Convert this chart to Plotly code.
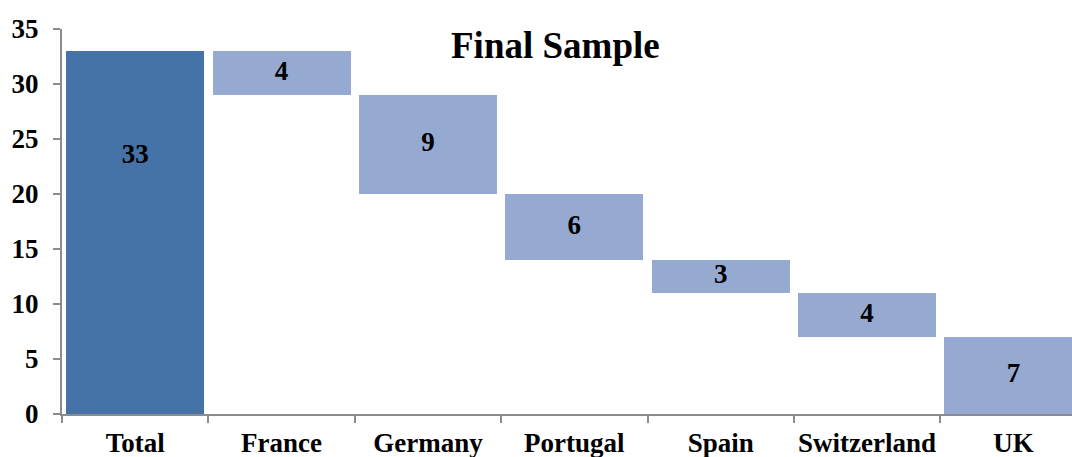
import plotly.graph_objects as go

# Sample composition: overall total, then the contribution of each country
categories = ["Total", "France", "Germany", "Portugal", "Spain", "Switzerland", "UK"]
counts = [33, 4, 9, 6, 3, 4, 7]
title_text = "Final Sample"

total_color = "#4572A7"
step_color = "#95A9D1"
axis_color = "#8C8C8C"
font_family = "Liberation Serif, Times New Roman, serif"

# Floating bars: the total starts at zero, each country hangs below the previous one
bases = [0]
level = counts[0]
for v in counts[1:]:
    level -= v
    bases.append(level)

colors = [total_color] + [step_color] * (len(counts) - 1)

# Label heights: steps centered, total label sits in the upper part of its bar
label_y = [b + v / 2 for b, v in zip(bases, counts)]
label_y[0] = bases[0] + counts[0] * 0.71

fig = go.Figure()
fig.add_trace(go.Bar(
    x=categories,
    y=counts,
    base=bases,
    marker=dict(color=colors, line=dict(width=0)),
    width=0.943,
    hoverinfo="x+y",
))
fig.add_trace(go.Scatter(
    x=categories,
    y=label_y,
    mode="text",
    text=[str(v) for v in counts],
    textfont=dict(family=font_family, size=27, color="black", weight="bold"),
    cliponaxis=False,
    hoverinfo="skip",
))

fig.add_annotation(
    text="<b>" + title_text + "</b>",
    xref="paper", yref="paper",
    x=0.489, y=0.958,
    xanchor="center", yanchor="middle",
    showarrow=False,
    font=dict(family=font_family, size=37, color="black"),
)

fig.update_layout(
    width=1072, height=457,
    margin=dict(l=62, r=0, t=29, b=43, autoexpand=False),
    paper_bgcolor="white",
    plot_bgcolor="white",
    showlegend=False,
    bargap=0,
)
fig.update_xaxes(
    range=[-0.5, 6.4],
    showgrid=False,
    showline=True, linecolor=axis_color, linewidth=2,
    ticks="outside", tickson="boundaries", ticklen=7, tickcolor=axis_color, tickwidth=2,
    tickfont=dict(family=font_family, size=27, color="black", weight="bold"),
    tickangle=0,
    automargin=False,
    ticklabelstandoff=4,
    fixedrange=True,
)
fig.update_yaxes(
    range=[0, 35],
    dtick=5,
    showgrid=False,
    zeroline=False,
    showline=True, linecolor=axis_color, linewidth=2,
    ticks="outside", ticklen=7, tickcolor=axis_color, tickwidth=2,
    tickfont=dict(family=font_family, size=27, color="black", weight="bold"),
    automargin=False,
    ticklabelstandoff=9,
    fixedrange=True,
)

fig.write_html("out.html")
